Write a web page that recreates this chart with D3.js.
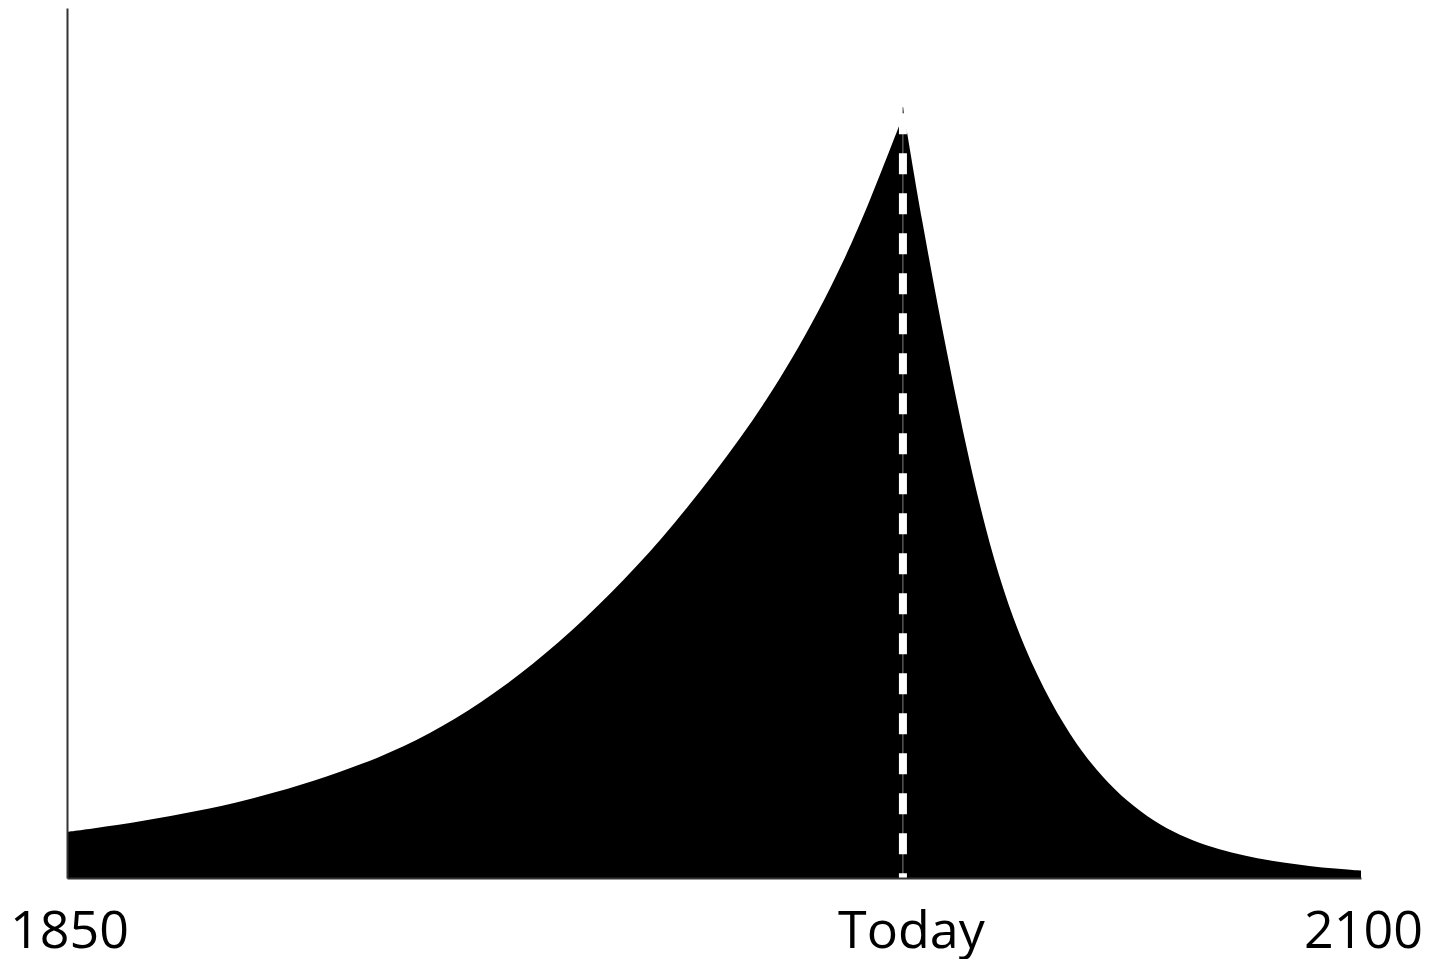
<!DOCTYPE html>
<html>
<head>
<meta charset="utf-8">
<script src="https://cdn.jsdelivr.net/npm/d3@7"></script>
<style>
  html, body { margin: 0; padding: 0; background: #fff; }
  svg { display: block; }
</style>
</head>
<body>
<svg id="chart" width="1429" height="959"></svg>
<script>
// ---- data ----
const startYear = 1850;
const endYear = 2100;
const todayYear = 2011.5;
const tickValues = [1850, 2011.5, 2100];
const tickLabels = ["1850", "Today", "2100"];

// rising part, up to today
const pastYears  = [1850, 1855, 1860, 1865, 1870, 1875, 1880, 1885, 1890, 1895, 1900, 1905, 1910, 1915, 1920, 1925, 1930,
                    1935, 1940, 1945, 1950, 1955, 1960, 1965, 1970, 1975, 1980, 1985, 1990, 1995, 2000, 2005, 2011.5];
const pastValues = [5.3,  5.7,  6.1,  6.6,  7.1,  7.7,  8.3,  9.0,  9.8,  10.7, 11.6, 12.7, 13.8, 15.1, 16.6, 18.3, 20.2,
                    22.3, 24.6, 27.1, 29.8, 32.7, 35.8, 39.1, 42.7, 46.5, 50.5, 54.8, 59.6, 64.9, 70.8, 77.6, 87.6];

// falling part, after today
const futureYears  = [2011.5, 2015, 2020, 2025, 2030, 2035, 2040, 2045, 2050, 2055, 2060, 2065, 2070, 2075, 2080, 2085, 2090, 2095, 2100];
const futureValues = [88.6,   76.0, 60.2, 45.8, 34.4, 26.3, 20.2, 15.3, 11.6, 8.7,  6.5,  4.9,  3.75, 2.9,  2.25, 1.75, 1.38, 1.08, 0.85];

// ---- chart ----
const svg = d3.select("#chart");
const x = d3.scaleLinear().domain([startYear, endYear]).range([67, 1361]);
const y = d3.scaleLinear().domain([0, 100]).range([878, 8]);

const past = pastYears.map((yr, i) => ({ year: yr, value: pastValues[i] }));
const future = futureYears.map((yr, i) => ({ year: yr, value: futureValues[i] }));

const area = d3.area()
  .x(d => x(d.year))
  .y0(y(0))
  .y1(d => y(d.value))
  .curve(d3.curveBasis);

svg.append("path").datum(past).attr("d", area).attr("fill", "#000");
svg.append("path").datum(future).attr("d", area).attr("fill", "#000");

// seam line and white dashed "today" marker
const peak = futureValues[0];
svg.append("line")
  .attr("x1", x(todayYear)).attr("x2", x(todayYear))
  .attr("y1", y(0)).attr("y2", y(peak))
  .attr("stroke", "#7a7a7a").attr("stroke-width", 1);

svg.append("line")
  .attr("x1", x(todayYear)).attr("x2", x(todayYear))
  .attr("y1", y(peak)).attr("y2", y(0))
  .attr("stroke", "#fff").attr("stroke-width", 8)
  .attr("stroke-dasharray", "21,19")
  .attr("stroke-dashoffset", 34);

// axes
const xAxis = d3.axisBottom(x)
  .tickValues(tickValues)
  .tickFormat((d, i) => tickLabels[i])
  .tickSize(0)
  .tickSizeOuter(0);

const gx = svg.append("g").attr("transform", `translate(0,${y(0)})`).call(xAxis);
gx.select(".domain").attr("stroke", "#333").attr("stroke-width", 2);
gx.selectAll(".tick text")
  .attr("y", 70).attr("dy", 0)
  .attr("dx", (d, i) => (i === 1 ? 8 : 2))
  .attr("fill", "#000")
  .style("font-family", "'Open Sans', sans-serif")
  .style("font-size", "52px");

const yAxis = d3.axisLeft(y).tickValues([]).tickSize(0).tickSizeOuter(0);
const gy = svg.append("g").attr("transform", `translate(${x(startYear)},0)`).call(yAxis);
gy.select(".domain").attr("stroke", "#333").attr("stroke-width", 2);
</script>
</body>
</html>
